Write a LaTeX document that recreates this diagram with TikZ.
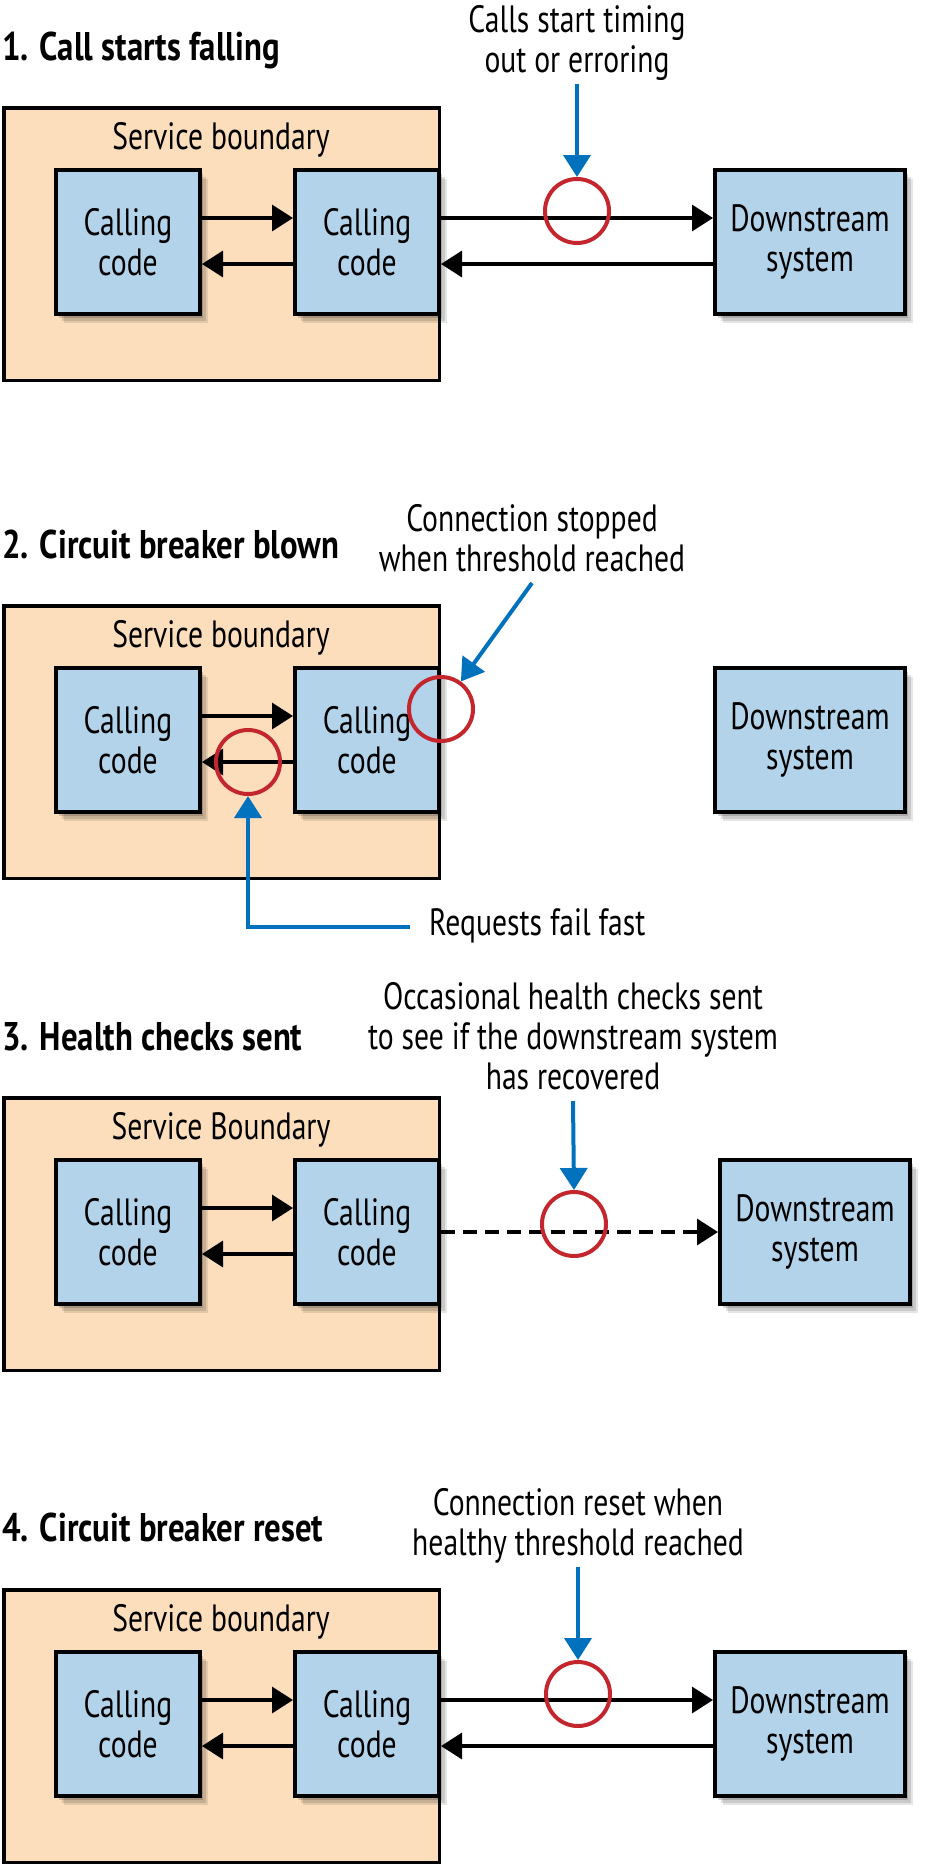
\documentclass[tikz,border=0pt]{standalone}
\usepackage{fontspec}
\setmainfont{PT Sans}[UprightFeatures={FakeStretch=0.78}, BoldFeatures={FakeStretch=0.82}]
\usetikzlibrary{arrows.meta, shadows}

\definecolor{peach}{RGB}{252,222,188}
\definecolor{paleblue}{RGB}{178,211,234}
\definecolor{hintblue}{RGB}{0,113,188}
\definecolor{faultred}{RGB}{196,38,46}

\begin{document}
\begin{tikzpicture}[x=1pt, y=-1pt, font=\fontsize{38pt}{40pt}\selectfont]
    \tikzstyle{boundary} = [draw, line width=3.5pt, fill=peach, inner sep=0pt,
        minimum width=435.5pt, minimum height=272.5pt]
    \tikzstyle{soft} = [drop shadow={shadow xshift=8pt, shadow yshift=-9pt, opacity=.1, fill=black},
        drop shadow={shadow xshift=6pt, shadow yshift=-7pt, opacity=.12, fill=black},
        drop shadow={shadow xshift=3pt, shadow yshift=-4pt, opacity=.16, fill=black}]
    \tikzstyle{codebox} = [draw, line width=4pt, fill=paleblue, soft, align=center,
        inner sep=0pt, minimum width=144pt, minimum height=144pt]
    \tikzstyle{downbox} = [codebox, minimum width=190pt]
    \tikzstyle{call} = [line width=3.3pt, -{Triangle[length=21pt, width=26pt]}]
    \tikzstyle{hint} = [line width=4pt, hintblue, -{Triangle[length=22pt, width=27pt]}]
    \tikzstyle{fault} = [circle, draw=faultred, line width=4pt, inner sep=0pt, minimum size=64pt]
    \tikzstyle{note} = [align=center, inner sep=3pt, text depth=8pt, anchor=south]
    \tikzstyle{heading} = [anchor=base west, inner sep=0pt, font=\bfseries\fontsize{40pt}{42pt}\selectfont]
    \tikzstyle{boundlabel} = [anchor=base, inner sep=0pt]

    \useasboundingbox (0,0) rectangle (939,1866);

    % 1. call starts falling
    \node (title1) [heading] at (2, 60) {1. Call starts falling};
    \node (sb1) [boundary] at (221.5, 244) {};
    \node (sbl1) [boundlabel] at (221, 149) {Service boundary};
    \node (cc1a) [codebox] at (128, 242) {Calling\\code};
    \node (cc1b) [codebox] at (367, 242) {Calling\\code};
    \node (ds1) [downbox] at (810, 242) {Downstream\\system};
    \draw [call] ([yshift=24pt]cc1a.east) -- ([yshift=24pt]cc1b.west);
    \draw [call] ([yshift=-22pt]cc1b.west) -- ([yshift=-22pt]cc1a.east);
    \draw [call] ([yshift=24pt]cc1b.east) -- ([yshift=24pt]ds1.west);
    \draw [call] ([yshift=-22pt]ds1.west) -- ([yshift=-22pt]cc1b.east);
    \node (fault1) [fault] at (577, 211) {};
    \node (note1) [note] at (577, 84) {Calls start timing\\out or erroring};
    \draw [hint] (note1.south) -- (fault1.north);

    % 2. circuit breaker blown
    \node (title2) [heading] at (2, 558) {2. Circuit breaker blown};
    \node (sb2) [boundary] at (221.5, 742) {};
    \node (sbl2) [boundlabel] at (221, 647) {Service boundary};
    \node (cc2a) [codebox] at (128, 740) {Calling\\code};
    \node (cc2b) [codebox] at (367, 740) {Calling\\code};
    \node (ds2) [downbox] at (810, 740) {Downstream\\system};
    \draw [call] ([yshift=24pt]cc2a.east) -- ([yshift=24pt]cc2b.west);
    \draw [call] ([yshift=-22pt]cc2b.west) -- ([yshift=-22pt]cc2a.east);
    \node (brk2a) [fault] at (248, 762) {};
    \node (brk2b) [fault] at (441, 709) {};
    \node (note2) [note] at (532, 583) {Connection stopped\\when threshold reached};
    \node (fail2) [anchor=base west, inner sep=0pt] at (429, 935) {Requests fail fast};
    \draw [hint] (note2.south) -- (brk2b);
    \draw [hint] ([xshift=-19pt, yshift=8pt]fail2.base west) -| (brk2a.south);

    % 3. health checks sent
    \node (title3) [heading] at (2, 1050) {3. Health checks sent};
    \node (sb3) [boundary] at (221.5, 1234) {};
    \node (sbl3) [boundlabel] at (221, 1139) {Service Boundary};
    \node (cc3a) [codebox] at (128, 1232) {Calling\\code};
    \node (cc3b) [codebox] at (367, 1232) {Calling\\code};
    \node (ds3) [downbox] at (815, 1232) {Downstream\\system};
    \draw [call] ([yshift=24pt]cc3a.east) -- ([yshift=24pt]cc3b.west);
    \draw [call] ([yshift=-22pt]cc3b.west) -- ([yshift=-22pt]cc3a.east);
    \draw [call, dash pattern=on 14pt off 8pt] (cc3b.east) -- (ds3.west);
    \node (check3) [fault] at (574, 1224) {};
    \node (note3) [note] at (573, 1101) {Occasional health checks sent\\to see if the downstream system\\has recovered};
    \draw [hint] (note3.south) -- (check3.north);

    % 4. circuit breaker reset
    \node (title4) [heading] at (2, 1541) {4. Circuit breaker reset};
    \node (sb4) [boundary] at (221.5, 1726) {};
    \node (sbl4) [boundlabel] at (221, 1631) {Service boundary};
    \node (cc4a) [codebox] at (128, 1724) {Calling\\code};
    \node (cc4b) [codebox] at (367, 1724) {Calling\\code};
    \node (ds4) [downbox] at (810, 1724) {Downstream\\system};
    \draw [call] ([yshift=24pt]cc4a.east) -- ([yshift=24pt]cc4b.west);
    \draw [call] ([yshift=-22pt]cc4b.west) -- ([yshift=-22pt]cc4a.east);
    \draw [call] ([yshift=24pt]cc4b.east) -- ([yshift=24pt]ds4.west);
    \draw [call] ([yshift=-22pt]ds4.west) -- ([yshift=-22pt]cc4b.east);
    \node (reset4) [fault] at (578, 1694) {};
    \node (note4) [note] at (578, 1567) {Connection reset when\\healthy threshold reached};
    \draw [hint] (note4.south) -- (reset4.north);
\end{tikzpicture}
\end{document}
